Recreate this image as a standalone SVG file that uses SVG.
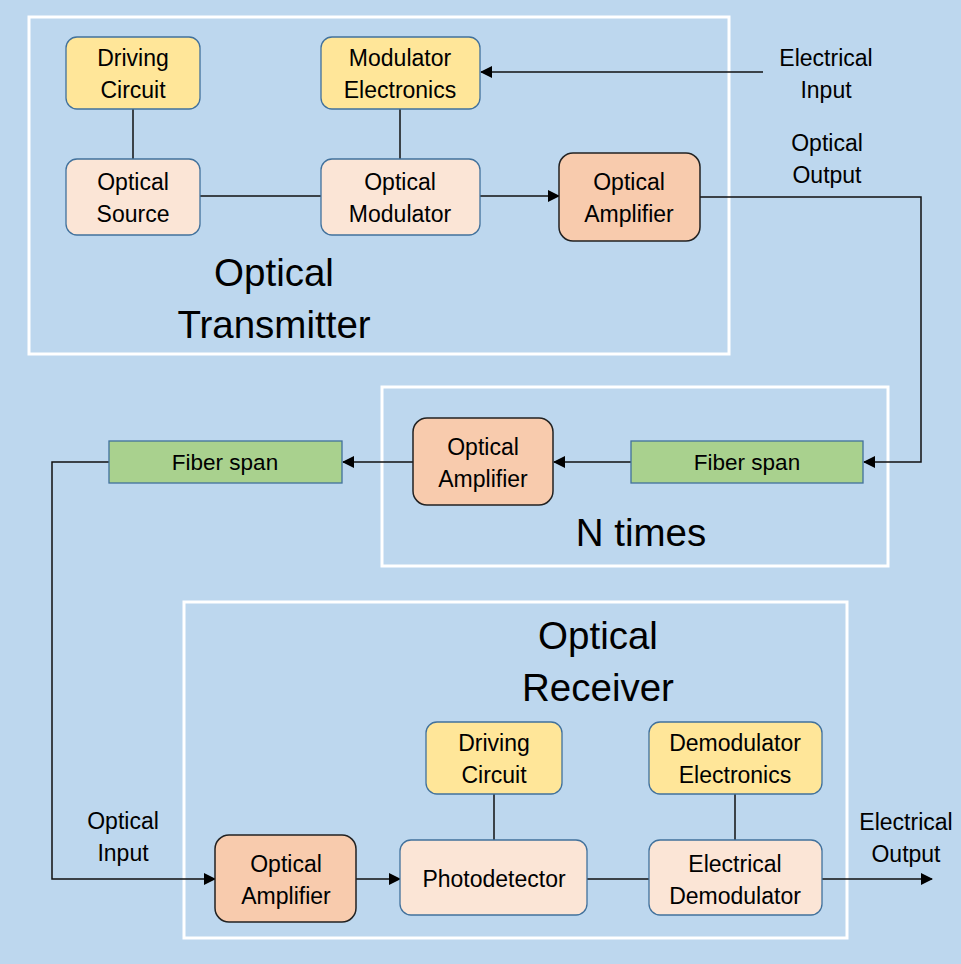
<svg xmlns="http://www.w3.org/2000/svg" width="961" height="964" viewBox="0 0 961 964">
<style>
.t{font-family:"Liberation Sans",Arial,sans-serif;font-size:23px;fill:#000;text-anchor:middle}
.big{font-size:38.5px}
.fs{font-size:22.5px}
.frame{fill:none;stroke:#fff;stroke-width:3}
.y{fill:#FFE699;stroke:#41719C;stroke-width:1.3}
.p{fill:#FBE5D6;stroke:#41719C;stroke-width:1.3}
.o{fill:#F8CBAD;stroke:#222;stroke-width:1.5}
.g{fill:#A9D18E;stroke:#41719C;stroke-width:1.3}
.c{fill:none;stroke:#111;stroke-width:1.5}
</style>
<defs>
<marker id="ah" markerWidth="12" markerHeight="12" refX="11" refY="6" orient="auto" markerUnits="userSpaceOnUse">
<path d="M0,0 L12,6 L0,12 Z" fill="#000"/>
</marker>
</defs>
<rect x="0" y="0" width="961" height="964" fill="#BDD7EE"/>
<g id="frames">
<rect class="frame" x="29" y="17" width="700" height="337"/>
<rect class="frame" x="382" y="387" width="506" height="179"/>
<rect class="frame" x="184" y="602" width="663" height="336"/>
<text class="t big" x="274" y="286">Optical</text>
<text class="t big" x="274" y="338">Transmitter</text>
<text class="t big" x="641" y="546">N times</text>
<text class="t big" x="598" y="649">Optical</text>
<text class="t big" x="598" y="701">Receiver</text>
</g>
<g id="connectors">
<line class="c" x1="133" y1="109" x2="133" y2="159"/>
<line class="c" x1="400" y1="109" x2="400" y2="159"/>
<line class="c" x1="200" y1="196" x2="321" y2="196"/>
<line class="c" x1="480" y1="196" x2="559" y2="196" marker-end="url(#ah)"/>
<line class="c" x1="763" y1="72" x2="481" y2="72" marker-end="url(#ah)"/>
<polyline class="c" points="700,197 921,197 921,462 864,462" marker-end="url(#ah)"/>
<line class="c" x1="631" y1="462" x2="554" y2="462" marker-end="url(#ah)"/>
<line class="c" x1="413" y1="462" x2="343" y2="462" marker-end="url(#ah)"/>
<polyline class="c" points="109,462 52,462 52,879 215,879" marker-end="url(#ah)"/>
<line class="c" x1="356" y1="879" x2="400" y2="879" marker-end="url(#ah)"/>
<line class="c" x1="587" y1="879" x2="649" y2="879"/>
<line class="c" x1="822" y1="879" x2="932" y2="879" marker-end="url(#ah)"/>
<line class="c" x1="494" y1="794" x2="494" y2="840"/>
<line class="c" x1="735" y1="794" x2="735" y2="840"/>
</g>
<g id="driving-circuit-tx"><rect class="y" x="66" y="37" width="134" height="72" rx="11"/><text class="t" x="133" y="66">Driving</text><text class="t" x="133" y="98">Circuit</text></g>
<g id="modulator-electronics"><rect class="y" x="321" y="37" width="159" height="72" rx="11"/><text class="t" x="400" y="66">Modulator</text><text class="t" x="400" y="98">Electronics</text></g>
<g id="optical-source"><rect class="p" x="66" y="159" width="134" height="76" rx="11"/><text class="t" x="133" y="190">Optical</text><text class="t" x="133" y="222">Source</text></g>
<g id="optical-modulator"><rect class="p" x="321" y="159" width="159" height="76" rx="11"/><text class="t" x="400" y="190">Optical</text><text class="t" x="400" y="222">Modulator</text></g>
<g id="optical-amplifier-tx"><rect class="o" x="559" y="153" width="141" height="88" rx="14"/><text class="t" x="629" y="190">Optical</text><text class="t" x="629" y="222">Amplifier</text></g>
<g id="electrical-input"><text class="t" x="826" y="66">Electrical</text><text class="t" x="826" y="98">Input</text></g>
<g id="optical-output"><text class="t" x="827" y="151">Optical</text><text class="t" x="827" y="183">Output</text></g>
<g id="fiber-span-1"><rect class="g" x="631" y="441" width="232" height="42"/><text class="t fs" x="747" y="470">Fiber span</text></g>
<g id="optical-amplifier-line"><rect class="o" x="413" y="418" width="140" height="87" rx="14"/><text class="t" x="483" y="455">Optical</text><text class="t" x="483" y="487">Amplifier</text></g>
<g id="fiber-span-2"><rect class="g" x="109" y="441" width="233" height="42"/><text class="t fs" x="225" y="470">Fiber span</text></g>
<g id="optical-input"><text class="t" x="123" y="829">Optical</text><text class="t" x="123" y="861">Input</text></g>
<g id="optical-amplifier-rx"><rect class="o" x="215" y="835" width="141" height="87" rx="14"/><text class="t" x="286" y="872">Optical</text><text class="t" x="286" y="904">Amplifier</text></g>
<g id="driving-circuit-rx"><rect class="y" x="426" y="722" width="136" height="72" rx="11"/><text class="t" x="494" y="751">Driving</text><text class="t" x="494" y="783">Circuit</text></g>
<g id="photodetector"><rect class="p" x="400" y="840" width="187" height="75" rx="11"/><text class="t" x="494" y="887">Photodetector</text></g>
<g id="demodulator-electronics"><rect class="y" x="649" y="722" width="173" height="72" rx="11"/><text class="t" x="735" y="751">Demodulator</text><text class="t" x="735" y="783">Electronics</text></g>
<g id="electrical-demodulator"><rect class="p" x="649" y="840" width="173" height="75" rx="11"/><text class="t" x="735" y="872">Electrical</text><text class="t" x="735" y="904">Demodulator</text></g>
<g id="electrical-output"><text class="t" x="906" y="830">Electrical</text><text class="t" x="906" y="862">Output</text></g>
</svg>
